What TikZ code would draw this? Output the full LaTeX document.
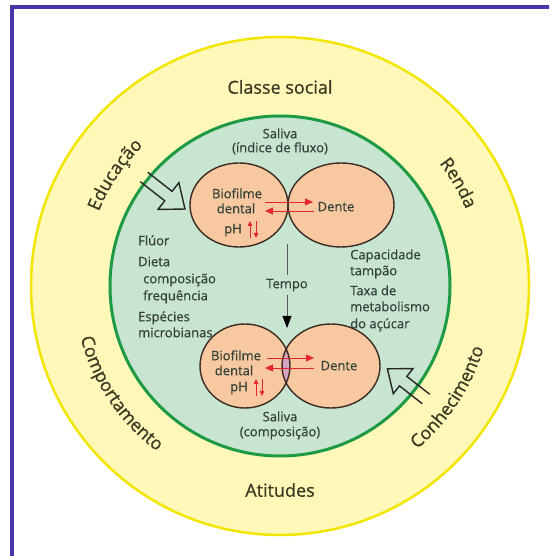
\documentclass[tikz,border=0pt]{standalone}
\usepackage{fontspec}
\setmainfont{Open Sans}
\newfontfamily\medfont{Open Sans}[FakeBold=0.6]
\newfontfamily\ringfam{Open Sans}[FakeBold=0.8]
\usetikzlibrary{arrows.meta,decorations.text}
\definecolor{ringfill}{HTML}{FFF8B8}
\definecolor{ringline}{HTML}{F2E500}
\definecolor{greenfill}{HTML}{C8E5D2}
\definecolor{greenline}{HTML}{1E9A45}
\definecolor{ellfill}{HTML}{F8C9A0}
\definecolor{ellline}{HTML}{3B2B22}
\definecolor{lens}{HTML}{D6A3C0}
\definecolor{borderblue}{HTML}{4636A8}
\definecolor{ringtext}{HTML}{3A3A22}
\definecolor{innertext}{HTML}{33413A}
\definecolor{redarrow}{HTML}{E3262D}
\newcommand\ringfont{\ringfam\fontsize{18}{20}\selectfont\color{ringtext}}
\begin{document}
\begin{tikzpicture}[x=1pt,y=1pt,
  inner/.style={font=\medfont\fontsize{13}{15}\selectfont, text=innertext, inner sep=0pt, text height=9pt, text depth=2.5pt},
  ringlabel/.style={font=\ringfont, inner sep=0pt},
  ellshape/.style={fill=ellfill},
  ellborder/.style={draw=ellline, line width=1.4pt},
  redarr/.style={draw=redarrow, line width=0.8pt, -{Triangle[length=8pt,width=7pt]}},
  smallred/.style={draw=redarrow, line width=0.8pt, -{Triangle[length=5pt,width=4.5pt]}},
  hollowarrow/.style={draw=black!85, line width=1.4pt, line join=miter},
  curved/.style={decorate, decoration={text along path, text align=center, text={|\ringfont|#1}}}]
\useasboundingbox (0,0) rectangle (549,556);
\clip (0,0) rectangle (549,556);
\fill[white] (0,0) rectangle (549,556);
\coordinate (C) at (280,270);
% frame
\draw[borderblue, line width=4pt] (12,-10) -- (12,549) -- (570,549);
% rings
\draw[fill=ringfill, draw=ringline, line width=2.5pt] (C) circle[radius=249];
\draw[fill=greenfill, draw=greenline, line width=3pt] (C) circle[radius=170];
% ring labels
\node[ringlabel] (classe) at (280,469) {Classe social};
\node[ringlabel] (atitudes) at (280,66) {Atitudes};
\path[curved={Educação}] (C) ++(176:196) arc[start angle=176, end angle=116, radius=196];
\path[curved={Renda}] (C) ++(60:201) arc[start angle=60, end angle=0, radius=201];
\path[curved={Comportamento}] (C) ++(180:206) arc[start angle=180, end angle=248, radius=206];
\path[curved={Conhecimento}] (C) ++(292:213) arc[start angle=292, end angle=361, radius=213];
% top ellipses
\coordinate (TL) at (239,351);
\coordinate (TR) at (341,351);
\fill[ellshape] (TL) ellipse[x radius=49, y radius=42];
\fill[ellshape] (TR) ellipse[x radius=53, y radius=42];
\draw[ellborder] (TL) ellipse[x radius=49, y radius=42];
\draw[ellborder] (TR) ellipse[x radius=53, y radius=42];
% bottom ellipses
\coordinate (BL) at (245,190);
\coordinate (BR) at (331,190);
\fill[ellshape] (BL) ellipse[x radius=45, y radius=42];
\fill[ellshape] (BR) ellipse[x radius=49, y radius=42];
\begin{scope}
  \clip (BL) ellipse[x radius=45, y radius=42];
  \fill[lens] (BR) ellipse[x radius=49, y radius=42];
\end{scope}
\draw[ellborder] (BL) ellipse[x radius=45, y radius=42];
\draw[ellborder] (BR) ellipse[x radius=49, y radius=42];
% saliva labels
\node[inner] (sal1) at (280,421) {Saliva};
\node[inner] (sal1b) at (280,407) {(índice de fluxo)};
\node[inner] (sal2) at (280,138) {Saliva};
\node[inner] (sal2b) at (280,123) {(composição)};
% top ellipse texts
\node[inner] (bio1) at (237,361) {Biofilme};
\node[inner] (den1) at (236,346) {dental};
\node[inner] (ph1) at (233,326) {pH};
\node[inner] (dente1) at (336,348) {Dente};
\coordinate (r1a) at (265,354); \coordinate (r1b) at (313,354);
\coordinate (r1c) at (314,345); \coordinate (r1d) at (265,345);
\draw[redarr] (r1a) -- (r1b);
\draw[redarr] (r1c) -- (r1d);
\coordinate (p1a) at (250,318); \coordinate (p1b) at (250,335);
\coordinate (p1c) at (256,335); \coordinate (p1d) at (256,318);
\draw[smallred] (p1a) -- (p1b);
\draw[smallred] (p1c) -- (p1d);
% bottom ellipse texts
\node[inner] (bio2) at (236,199) {Biofilme};
\node[inner] (den2) at (234,184) {dental};
\node[inner] (ph2) at (239,168) {pH};
\node[inner] (dente2) at (339,189) {Dente};
\coordinate (r2a) at (267,198); \coordinate (r2b) at (314,198);
\coordinate (r2c) at (314,188); \coordinate (r2d) at (265,188);
\draw[redarr] (r2a) -- (r2b);
\draw[redarr] (r2c) -- (r2d);
\coordinate (p2a) at (256,160); \coordinate (p2b) at (256,177);
\coordinate (p2c) at (262,177); \coordinate (p2d) at (262,160);
\draw[smallred] (p2a) -- (p2b);
\draw[smallred] (p2c) -- (p2d);
% tempo
\node[inner] (tempo) at (287,271) {Tempo};
\coordinate (t0) at (287,312);
\coordinate (t1) at (287,228);
\draw[black!65, line width=1pt] (t0) -- ([yshift=4pt]tempo.north);
\draw[black!65, line width=1pt, -{Triangle[length=12pt,width=9pt,color=black]}] ([yshift=-4pt]tempo.south) -- (t1);
% left column
\node[inner, anchor=west] (fluor) at (138,314) {Flúor};
\node[inner, anchor=west] (dieta) at (138,293) {Dieta};
\node[inner, anchor=west] (comp) at (143,276) {composição};
\node[inner, anchor=west] (freq) at (143,259) {frequência};
\node[inner, anchor=west] (esp) at (138,238) {Espécies};
\node[inner, anchor=west] (micro) at (138,222) {microbianas};
% right column
\node[inner, anchor=west] (cap) at (350,300) {Capacidade};
\node[inner, anchor=west] (tamp) at (350,284) {tampão};
\node[inner, anchor=west] (taxa) at (350,264) {Taxa de};
\node[inner, anchor=west] (meta) at (350,248) {metabolismo};
\node[inner, anchor=west] (acu) at (350,231) {do açúcar};
% hollow arrows
\begin{scope}[shift={(144,379)}, rotate=-38]
  \draw[hollowarrow] (0,6) -- (31,6) -- (31,17) -- (52,0) -- (31,-17) -- (31,-6) -- (0,-6);
\end{scope}
\begin{scope}[shift={(426,157)}, rotate=142]
  \draw[hollowarrow] (0,6) -- (29,6) -- (29,16) -- (49,0) -- (29,-16) -- (29,-6) -- (0,-6);
\end{scope}
\end{tikzpicture}
\end{document}
